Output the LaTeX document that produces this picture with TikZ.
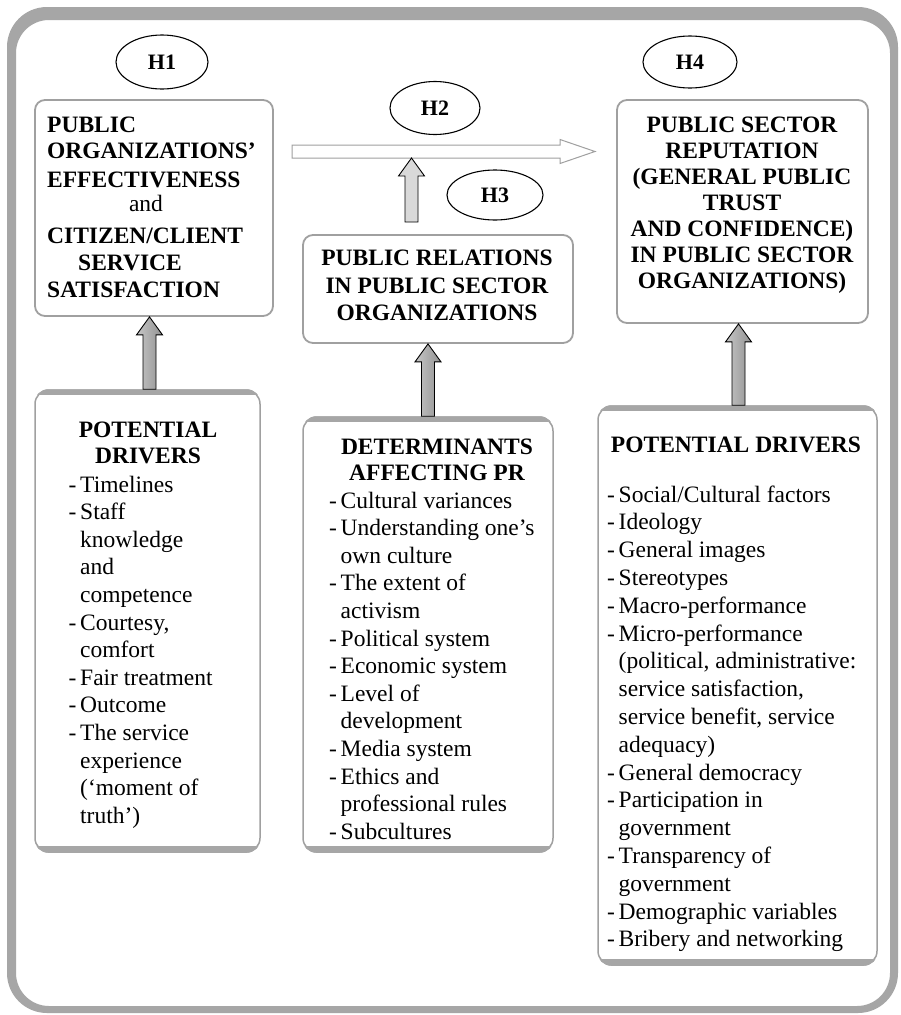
\documentclass[tikz,border=0pt]{standalone}
\usepackage{fontspec}
\setmainfont{Liberation Serif}
\usetikzlibrary{calc,shapes.geometric}
\definecolor{frameg}{RGB}{166,166,166}
\definecolor{boxg}{RGB}{160,160,160}
\definecolor{lightfill}{RGB}{217,217,217}
\newcommand\bodyfont{\fontsize{23.5}{27.7}\selectfont}
\newcommand\itm{\makebox[11.5pt][l]{-}}
\newcommand\cnt{\hspace*{11.5pt}}
% vertical block arrow: #1 bottom point, #2 tip point, #3 style
\newcommand\vblock[3]{%
  \draw[#3] let \p1=(#1), \p2=(#2) in
    (\x1-6.5pt,\y1) -- (\x1-6.5pt,\y2-18pt) -- (\x1-13pt,\y2-18pt) -- (\x1,\y2)
    -- (\x1+13pt,\y2-18pt) -- (\x1+6.5pt,\y2-18pt) -- (\x1+6.5pt,\y1) -- cycle;}
% horizontal block arrow: #1 tail point, #2 tip point, #3 style
\newcommand\hblock[3]{%
  \draw[#3] let \p1=(#1), \p2=(#2) in
    (\x1,\y1+6.5pt) -- (\x2-35pt,\y1+6.5pt) -- (\x2-35pt,\y1+12pt) -- (\x2,\y1)
    -- (\x2-35pt,\y1-12pt) -- (\x2-35pt,\y1-6.5pt) -- (\x1,\y1-6.5pt) -- cycle;}
\tikzset{
  hyp/.style={ellipse, draw=black, line width=1.1pt, inner sep=0pt,
    font=\fontsize{22}{24}\selectfont\bfseries},
  topbox/.style={draw=boxg, line width=1.8pt, rounded corners=10pt, inner sep=0pt, fill=white},
  botbox/.style={draw=boxg, line width=1.5pt, rounded corners=14pt, inner sep=0pt, fill=white},
  ln/.style={anchor=base west, inner sep=0pt, font=\bodyfont},
  bl/.style={anchor=base west, inner sep=0pt, font=\bodyfont\bfseries},
  bc/.style={anchor=base, inner sep=0pt, font=\bodyfont\bfseries},
  shadearrow/.style={draw=black, line width=0.9pt, left color=gray!45, right color=gray!85},
  lightarrow/.style={draw=black, line width=0.9pt, fill=lightfill},
  hollowarrow/.style={draw=gray!75, line width=1pt, fill=white},
}
\begin{document}
\begin{tikzpicture}[x=1pt,y=-1pt]
\useasboundingbox (0,0) rectangle (900,1015);
\fill[white] (0,0) rectangle (900,1015);
% outer frame
\fill[frameg, even odd rule] [rounded corners=40pt] (7,7) rectangle (898,1013)
  [rounded corners=33pt] (16,20) rectangle (890,1006);

% hypothesis ellipses
\node[hyp, minimum width=92pt, minimum height=54pt] (h1) at (162,62) {H1};
\node[hyp, minimum width=90pt, minimum height=53pt] (h2) at (435,108) {H2};
\node[hyp, minimum width=96pt, minimum height=50pt] (h3) at (495,195) {H3};
\node[hyp, minimum width=94pt, minimum height=52pt] (h4) at (690,62) {H4};

% top boxes
\node[topbox, minimum width=238pt, minimum height=216pt] (b1) at (154,208) {};
\node[topbox, minimum width=270pt, minimum height=108pt] (b2) at (438,289) {};
\node[topbox, minimum width=251pt, minimum height=223pt] (b4) at (742.5,211.5) {};

% bottom boxes
\node[botbox, minimum width=225pt, minimum height=462pt] (d1) at (147.5,621) {};
\node[botbox, minimum width=250pt, minimum height=435pt] (d2) at (428,634.5) {};
\node[botbox, minimum width=279pt, minimum height=559pt] (d3) at (737.5,685.5) {};
\foreach \b in {d1,d2,d3}{
  \begin{scope}
    \clip[rounded corners=14pt] (\b.north west) rectangle (\b.south east);
    \fill[frameg] (\b.north west) rectangle ([yshift=-6pt]\b.north east);
    \fill[frameg] ([yshift=7pt]\b.south west) rectangle (\b.south east);
  \end{scope}
}

% texts, box 1
\node[bl] (t1a) at (47,132) {PUBLIC};
\node[bl] (t1b) at (47,158) {ORGANIZATIONS’};
\node[bl] (t1c) at (47,187) {EFFECTIVENESS};
\node[anchor=base, inner sep=0pt, font=\bodyfont] (t1d) at (146,211) {and};
\node[bl] (t1e) at (47,243) {CITIZEN/CLIENT};
\node[bl] (t1f) at (78,270) {SERVICE};
\node[bl] (t1g) at (47,297) {SATISFACTION};

% texts, PR box
\node[bc] (t2a) at (437,265) {PUBLIC RELATIONS};
\node[bc] (t2b) at (437,293) {IN PUBLIC SECTOR};
\node[bc] (t2c) at (437,320) {ORGANIZATIONS};

% texts, box 4
\foreach \t [count=\i] in {{PUBLIC SECTOR},{REPUTATION},{(GENERAL PUBLIC},{TRUST},
    {AND CONFIDENCE)},{IN PUBLIC SECTOR},{ORGANIZATIONS)}}
  \node[bc] (t4-\i) at ({742},{132+26*(\i-1)}) {\t};

% bottom box 1
\node[bc] (p1a) at (148,437) {POTENTIAL};
\node[bc] (p1b) at (148,463) {DRIVERS};
\foreach \t [count=\i] in {{\itm Timelines},{\itm Staff},{\cnt knowledge},{\cnt and},
    {\cnt competence},{\itm Courtesy,},{\cnt comfort},{\itm Fair treatment},{\itm Outcome},
    {\itm The service},{\cnt experience},{\cnt (‘moment of},{\cnt truth’)}}
  \node[ln] (l1-\i) at ({68.5},{492+27.6*(\i-1)}) {\t};

% bottom box 2
\node[bc] (p2a) at (437,454) {DETERMINANTS};
\node[bc] (p2b) at (437,480) {AFFECTING PR};
\foreach \t [count=\i] in {{\itm Cultural variances},{\itm Understanding one’s},{\cnt own culture},
    {\itm The extent of},{\cnt activism},{\itm Political system},{\itm Economic system},
    {\itm Level of},{\cnt development},{\itm Media system},{\itm Ethics and},
    {\cnt professional rules},{\itm Subcultures}}
  \node[ln] (l2-\i) at ({329},{508+27.6*(\i-1)}) {\t};

% bottom box 3
\node[bc] (p3a) at (736,452) {POTENTIAL DRIVERS};
\foreach \t [count=\i] in {{\itm Social/Cultural factors},{\itm Ideology},{\itm General images},
    {\itm Stereotypes},{\itm Macro-performance},{\itm Micro-performance},
    {\cnt (political, administrative:},{\cnt service satisfaction,},{\cnt service benefit, service},
    {\cnt adequacy)},{\itm General democracy},{\itm Participation in},{\cnt government},
    {\itm Transparency of},{\cnt government},{\itm Demographic variables},{\itm Bribery and networking}}
  \node[ln] (l3-\i) at ({607},{502+27.8*(\i-1)}) {\t};

% connectors
\coordinate (h2tail) at (292,151.5);
\coordinate (h2tip) at (595,151.5);
\hblock{h2tail}{h2tip}{hollowarrow}
\coordinate (v3b) at (411.5,222);
\coordinate (v3t) at (411.5,158);
\vblock{v3b}{v3t}{lightarrow}
\vblock{[xshift=2pt]d1.north}{b1.south}{shadearrow}
\vblock{d2.north}{b2.south}{shadearrow}
\vblock{[xshift=1pt]d3.north}{b4.south}{shadearrow}
\end{tikzpicture}
\end{document}
